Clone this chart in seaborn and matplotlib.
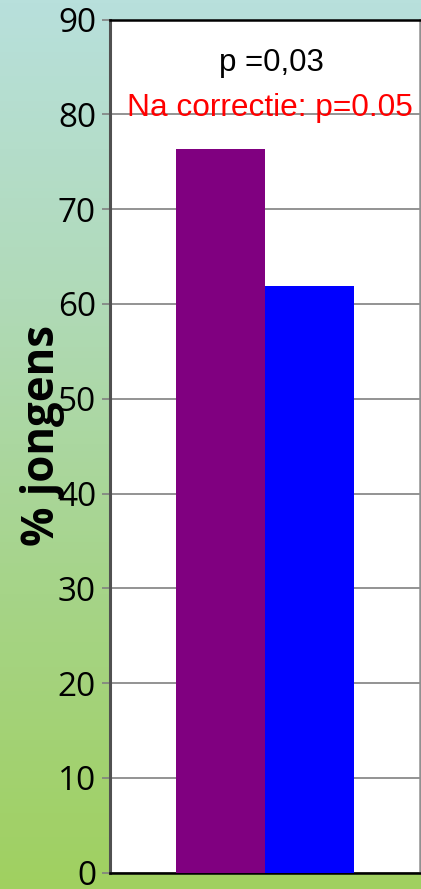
import numpy as np
import pandas as pd
import matplotlib
matplotlib.use("Agg")
import matplotlib.pyplot as plt
import seaborn as sns
from matplotlib.colors import LinearSegmentedColormap

# Data
groups = ["A", "B"]
values = [76.3, 61.9]
colors = ["#800080", "#0000FF"]
yticks = [0, 10, 20, 30, 40, 50, 60, 70, 80, 90]
ylabel = "% jongens"
annot1 = "p =0,03"
annot2 = "Na correctie: p=0.05"

sns.set_theme(style="white")
plt.rcParams["font.family"] = ["Open Sans", "DejaVu Sans"]

fig = plt.figure(figsize=(4.21, 8.89), dpi=100)

# gradient background
bg = fig.add_axes([0, 0, 1, 1], zorder=-10)
cmap = LinearSegmentedColormap.from_list("bg", ["#b8e0dc", "#b0dab8", "#a6d488", "#a0d060"])
grad = np.linspace(0, 1, 256).reshape(-1, 1)
bg.imshow(grad, aspect="auto", cmap=cmap, extent=[0, 1, 0, 1], origin="upper")
bg.set_axis_off()

ax = fig.add_axes([110 / 421, (889 - 872.7) / 889, 310 / 421, (872.7 - 19.5) / 889])
df = pd.DataFrame({"cat": [""] * len(groups), "grp": groups, "val": values})
sns.barplot(data=df, x="cat", y="val", hue="grp", palette=colors, width=0.575,
            saturation=1, legend=False, ax=ax, zorder=3, linewidth=0, edgecolor="none")
ax.set_facecolor("white")
ax.set_ylim(0, 90)
ax.set_xlim(-0.5, 0.5)
ax.set_yticks(yticks)
ax.set_yticklabels([str(t) for t in yticks], fontsize=24, color="black")
ax.set_xticks([])
ax.set_xlabel("")
ax.set_ylabel(ylabel, fontsize=31.5, fontweight="bold", color="black")
ax.yaxis.set_label_coords(-0.145, 0.513)
ax.yaxis.grid(True, color="#808080", linewidth=1.2, zorder=0)
ax.set_axisbelow(True)
ax.tick_params(axis="y", left=True, length=6, width=1.2, color="#808080", pad=4)

for side, c, lw in [("left", "#505050", 2.2), ("top", "#000000", 1.8),
                    ("right", "#909090", 1.8), ("bottom", "#000000", 1.8)]:
    ax.spines[side].set_visible(True)
    ax.spines[side].set_color(c)
    ax.spines[side].set_linewidth(lw)

ax.text(0.52, 85.4, annot1, transform=ax.get_yaxis_transform(), ha="center", va="center",
        fontsize=22.5, color="black", family=["Liberation Sans", "DejaVu Sans"], zorder=5)
ax.text(0.516, 80.7, annot2, transform=ax.get_yaxis_transform(), ha="center", va="center",
        fontsize=22.8, color="#FF0000", family=["Liberation Sans", "DejaVu Sans"], zorder=5)

fig.savefig("out.png", dpi=100)
